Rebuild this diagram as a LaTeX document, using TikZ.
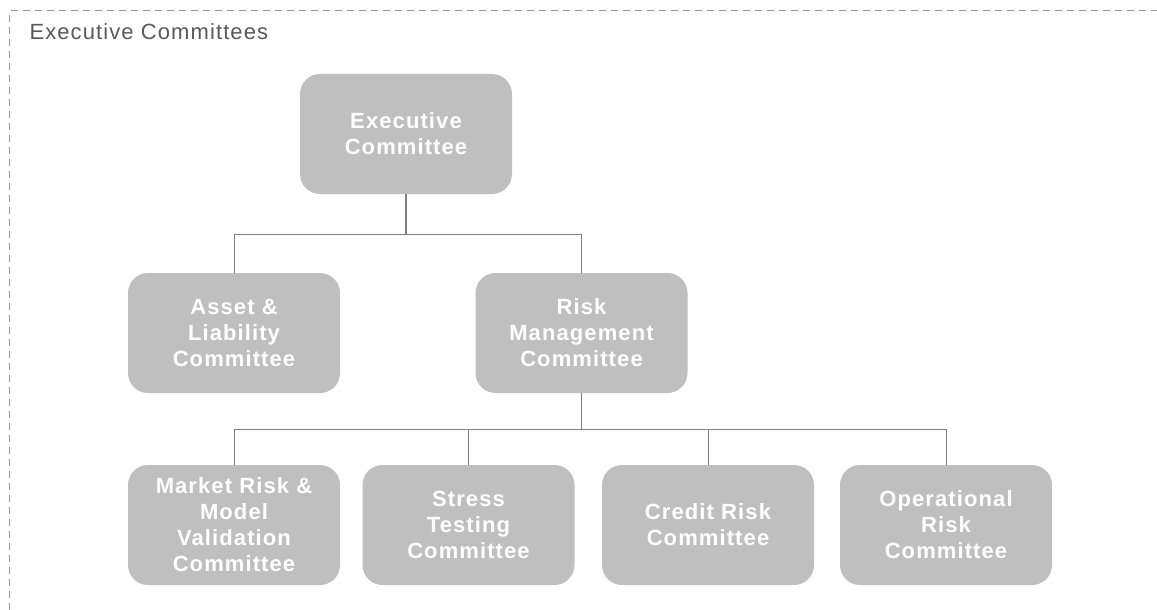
\documentclass[tikz,border=0pt]{standalone}
\usepackage{fontspec}
\setmainfont{Liberation Sans}[LetterSpace=5]
\definecolor{boxgray}{HTML}{BFBFBF}
\definecolor{linegray}{HTML}{7F7F7F}
\definecolor{titlegray}{HTML}{595959}
\definecolor{framegray}{HTML}{999999}
\tikzset{
  committee/.style={fill=boxgray, rounded corners=20pt, minimum width=212pt,
    minimum height=120pt, text=white, align=center,
    font=\fontsize{22}{26}\selectfont\bfseries},
  branch/.style={draw=linegray, line width=1pt},
  trunk/.style={draw=linegray, line width=1.6pt}
}
\begin{document}
\begin{tikzpicture}[x=1pt, y=-1pt]
    \useasboundingbox (0,0) rectangle (1157,610);
    \draw[framegray, line width=1pt, dash pattern=on 7pt off 5pt] (9.5,610) -- (9.5,11) -- (1157,11);
    \node[anchor=base west, text=titlegray, font=\fontsize{22}{26}\selectfont] (title) at (26,40) {Executive Committees};
    \node[committee] (exec) at (406,134) {Executive\\Committee};
    \node[committee] (alc) at (234,333) {Asset \&\\Liability\\Committee};
    \node[committee] (rmc) at (581.5,333) {Risk\\Management\\Committee};
    \foreach \x/\name/\txt in {234/mrmv/{Market Risk \&\\Model\\Validation\\Committee},
                               468.5/stc/{Stress\\Testing\\Committee},
                               708/crc/{Credit Risk\\Committee},
                               946/orc/{Operational\\Risk\\Committee}}
    { \node[committee] (\name) at (\x,525) {\txt};}
    \coordinate (upper) at (0,234);
    \coordinate (lower) at (0,429);
    \draw[trunk] (exec.south) -- (exec.south |- upper);
    \draw[branch] (alc.north) -- (alc.north |- upper) -- (rmc.north |- upper) -- (rmc.north);
    \draw[trunk] (rmc.south) -- (rmc.south |- lower);
    \draw[branch] (mrmv.north) -- (mrmv.north |- lower) -- (orc.north |- lower) -- (orc.north);
    \foreach \name in {stc, crc}
    { \draw[branch] (\name.north) -- (\name.north |- lower);}
  \end{tikzpicture}
\end{document}
